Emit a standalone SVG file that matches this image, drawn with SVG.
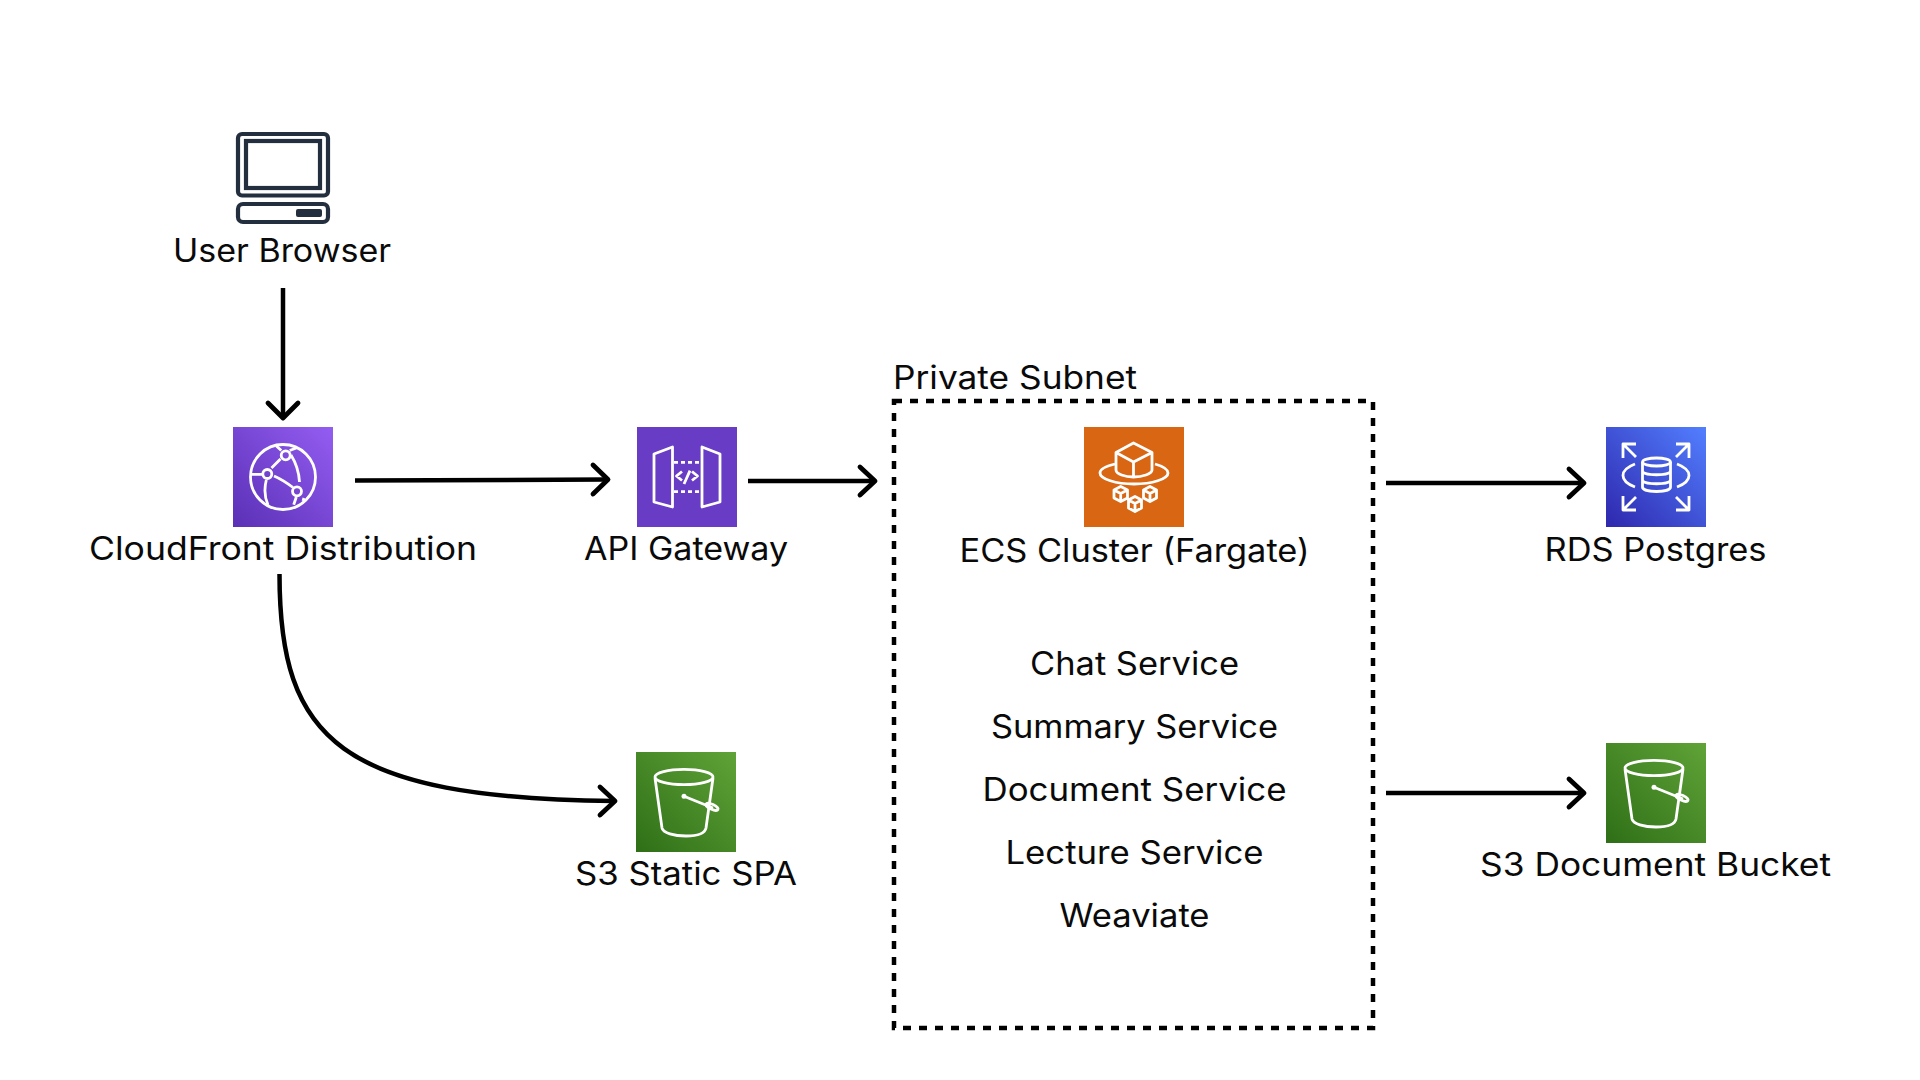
<svg xmlns="http://www.w3.org/2000/svg" width="1920" height="1080" viewBox="0 0 1920 1080">
<style>
text{font-family:"Inter","Liberation Sans",sans-serif;font-size:32px;fill:#0a0a0a;text-anchor:middle}
.c{fill:none;stroke:#000;stroke-width:4.500;stroke-linecap:butt;stroke-linejoin:round}
.h{fill:none;stroke:#000;stroke-width:4.800;stroke-linecap:round;stroke-linejoin:round}
.i{fill:none;stroke:#fff;stroke-width:2.800;stroke-linejoin:round}
.pc{fill:none;stroke:#232f3e;stroke-width:4.200}
</style>
<defs>
<linearGradient id="gP" x1="0" y1="1" x2="1" y2="0"><stop offset="0" stop-color="#5a30b5"/><stop offset="1" stop-color="#945df2"/></linearGradient>
<linearGradient id="gG" x1="0" y1="1" x2="1" y2="0"><stop offset="0" stop-color="#2e6f17"/><stop offset="1" stop-color="#60a337"/></linearGradient>
<linearGradient id="gB" x1="0" y1="1" x2="1" y2="0"><stop offset="0" stop-color="#2e27ad"/><stop offset="1" stop-color="#527fff"/></linearGradient>
<g id="bucket" class="i">
<ellipse cx="48" cy="25" rx="29" ry="7.700"/>
<path d="M19 26L26 76C27 81 38 84 50 84C62 84 69 81 70 76L77 26"/>
<circle cx="48" cy="44.300" r="2.500" fill="#fff" stroke="none"/>
<path d="M48 44.300L77 56"/>
<ellipse cx="76" cy="54.800" rx="6.500" ry="2.500" transform="rotate(25 76 54.800)"/>
</g>
</defs>
<g id="connectors">
<path class="c" d="M283 288V416"/><path class="h" d="M268 403L283 418L298 403"/>
<path class="c" d="M355 480.500L607 479.500"/><path class="h" d="M593 465L608 479.500L593 494"/>
<path class="c" d="M748 481H873"/><path class="h" d="M860 467L875 481L860 495"/>
<path class="c" d="M1386 483H1583"/><path class="h" d="M1569 469L1584 483L1569 497"/>
<path class="c" d="M1386 793H1583"/><path class="h" d="M1569 779L1584 793L1569 807"/>
<path class="c" d="M279.500 574C279.500 740 340 798 614 801"/><path class="h" d="M600 787L615 801L600 815"/>
</g>
<g id="user-browser">
<rect x="238" y="134" width="90" height="61.500" rx="4" class="pc"/>
<rect x="246" y="141" width="74" height="47" class="pc"/>
<rect x="238" y="204" width="90" height="18" rx="5" class="pc"/>
<rect x="296" y="209" width="26" height="8" rx="2" fill="#232f3e"/>
<text x="282" y="262" textLength="218" lengthAdjust="spacingAndGlyphs">User Browser</text>
</g>
<g id="cloudfront">
<rect x="233" y="427" width="100" height="100" fill="url(#gP)"/>
<g class="i" transform="translate(233 427)">
<circle cx="50" cy="50" r="32.500"/>
<circle cx="34.300" cy="47" r="4.500"/><circle cx="52.700" cy="28.300" r="4.500"/><circle cx="64" cy="64.300" r="4.500"/>
<path d="M38.500 41L47.500 32M41 49C48 52 54 56 60 60.500M58 28C63 36 66 46 66.500 55M29 47.300H17.700M33.300 53C31 62 31.500 70 35 78M63.300 70L60.700 77.700M43.300 19L48.300 23.500M56.700 23.500L63.300 21M70 74L71 71"/>
</g>
<text x="283" y="560" textLength="388" lengthAdjust="spacingAndGlyphs">CloudFront Distribution</text>
</g>
<g id="api-gateway">
<rect x="637" y="427" width="100" height="100" fill="#693cc5"/>
<g class="i" transform="translate(637 427)">
<path d="M17 27L35.500 20V80L17 75ZM65 20L83 27V75L65 80Z"/>
<path d="M37 35.300H64M37 64.700H64" stroke-dasharray="4 3"/>
<path d="M45 44.500L39.500 49L45 53.500M55 44.500L60.500 49L55 53.500M53 43.700L47 57"/>
</g>
<text x="686" y="560" textLength="204" lengthAdjust="spacingAndGlyphs">API Gateway</text>
</g>
<g id="private-subnet">
<rect x="894" y="401" width="479" height="627" fill="none" stroke="#000" stroke-width="4.500" stroke-dasharray="8 8"/>
<text x="1015" y="389" textLength="244" lengthAdjust="spacingAndGlyphs">Private Subnet</text>
<text x="1134.500" y="675" textLength="209" lengthAdjust="spacingAndGlyphs">Chat Service</text>
<text x="1134.500" y="738" textLength="287" lengthAdjust="spacingAndGlyphs">Summary Service</text>
<text x="1134.500" y="801" textLength="304" lengthAdjust="spacingAndGlyphs">Document Service</text>
<text x="1134.500" y="864" textLength="258" lengthAdjust="spacingAndGlyphs">Lecture Service</text>
<text x="1134.500" y="927" textLength="150" lengthAdjust="spacingAndGlyphs">Weaviate</text>
</g>
<g id="ecs-cluster">
<rect x="1084" y="427" width="100" height="100" fill="#d96612"/>
<g class="i" transform="translate(1084 427)">
<path d="M49.500 16L68 25.500V43C68 47 58 50 49.500 50C41 50 32 47 32 43V25.500ZM32 25.500L49.500 35L68 25.500M49.500 35V50"/>
<path d="M31 37C22 39 16 42 16 46C16 52 32 57 50 57C68 57 84 52 84 46C84 42 78 39 71 37"/>
<path d="M30 63L36.700 59.500L43.500 63V71L36.700 74.500L30 71ZM30 63L36.700 66.500L43.500 63M36.700 66.500V74.500M59.500 63L66 59.500L72.500 63V71L66 74.500L59.500 71ZM59.500 63L66 66.500L72.500 63M66 66.500V74.500M44.500 73L51 69.500L57.500 73V81L51 84.500L44.500 81ZM44.500 73L51 76.500L57.500 73M51 76.500V84.500"/>
</g>
<text x="1134.500" y="562" textLength="350" lengthAdjust="spacingAndGlyphs">ECS Cluster (Fargate)</text>
</g>
<g id="rds-postgres">
<rect x="1606" y="427" width="100" height="100" fill="url(#gB)"/>
<g class="i" transform="translate(1606 427)">
<path d="M17 31V17H30M17 17L30 30M83 31V17H70M83 17L70 30M17 69V83H30M17 83L30 70M83 69V83H70M83 83L70 70"/>
<path d="M29 37C13 43 13 54 29 60M71 37C87 43 87 54 71 60"/>
<ellipse cx="50.500" cy="35" rx="14" ry="4"/>
<path d="M36.500 35V60C36.500 66 64.500 66 64.500 60V35M36.500 44C36.500 49 64.500 49 64.500 44M36.500 53C36.500 58 64.500 58 64.500 53"/>
</g>
<text x="1655.500" y="561" textLength="222" lengthAdjust="spacingAndGlyphs">RDS Postgres</text>
</g>
<g id="s3-static-spa">
<rect x="636" y="752" width="100" height="100" fill="url(#gG)"/>
<use href="#bucket" transform="translate(636 752)"/>
<text x="686" y="885" textLength="222" lengthAdjust="spacingAndGlyphs">S3 Static SPA</text>
</g>
<g id="s3-document-bucket">
<rect x="1606" y="743" width="100" height="100" fill="url(#gG)"/>
<use href="#bucket" transform="translate(1606 743)"/>
<text x="1655.500" y="876" textLength="351" lengthAdjust="spacingAndGlyphs">S3 Document Bucket</text>
</g>
</svg>
